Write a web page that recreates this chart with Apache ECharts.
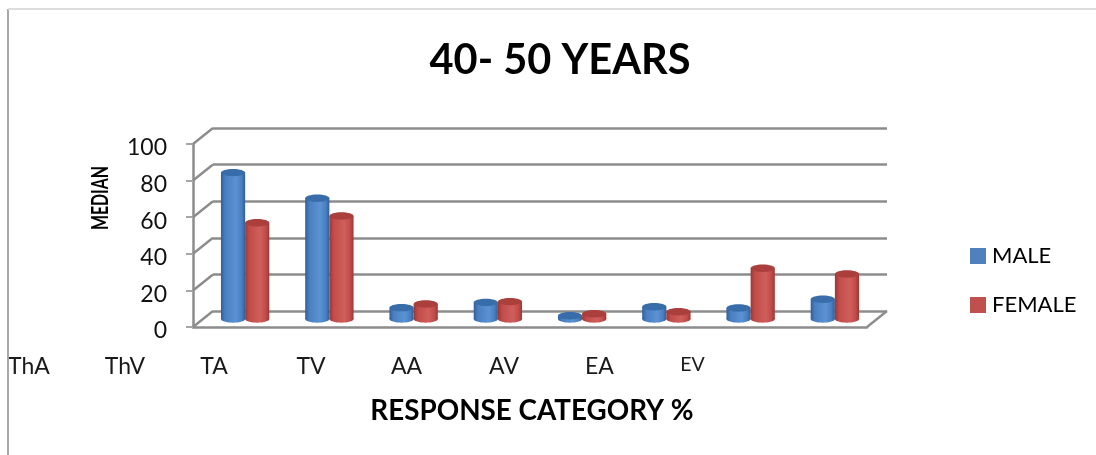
<!DOCTYPE html>
<html>
<head>
<meta charset="utf-8">
<style>html,body{margin:0;padding:0;background:#fff}#chart{width:1096px;height:455px}</style>
<script src="https://cdn.jsdelivr.net/npm/echarts@6/dist/echarts.min.js"></script>
</head>
<body>
<div id="chart"></div>
<script>
// Response categories, one per pair of cylinders
const categories = ['ThA', 'ThV', 'TA', 'TV', 'AA', 'AV', 'EA', 'EV'];
// Median values by sex
const maleValues = [80, 66, 6.2, 9.1, 1.8, 6.7, 6, 10.8];
const femaleValues = [52.6, 56.3, 8.2, 9.5, 2.9, 4, 27.7, 24.6];
// Value axis ticks
const valueTicks = [0, 20, 40, 60, 80, 100];
// Horizontal placement of the category captions on the caption axis
const captionPositions = [29, 125, 214, 311, 406.5, 504, 599.5, 692.5];

const FONT = 'Lato';
const LINE = '#8c8c8c';
const DEPTH_X = 20, DEPTH_Y = 16;

// Front plane, back wall, mid-depth plane for the cylinders,
// caption strip, and the plane carrying the value labels
const grids = [
  { left: 193, top: 144, width: 674, height: 183 },
  { left: 213, top: 128, width: 674, height: 183 },
  { left: 203, top: 136, width: 674, height: 183 },
  { left: 0, top: 300, width: 1064, height: 50 },
  { left: 193, top: 148, width: 674, height: 183 }
];

const hiddenCategory = (i) => ({
  gridIndex: i, type: 'category', data: categories,
  axisLabel: { show: false }, axisTick: { show: false }, axisLine: { show: false }
});
const hiddenValue = (i) => ({
  gridIndex: i, type: 'value', min: 0, max: 100, interval: 20,
  axisLabel: { show: false }, axisTick: { show: false }, axisLine: { show: false }, splitLine: { show: false }
});

// Cylinder: bottom cap, shaded body, darker top cap
function cylinder(sideIndex, edge, mid, light, cap) {
  return function (params, api) {
    const cat = api.value(0), val = api.value(1);
    const base = api.coord([cat, 0]);
    const top = api.coord([cat, val]);
    const band = api.size([1, 0])[0];
    const w = band * 0.287;
    const rx = w / 2, ry = 3.7;
    const cx = base[0] + (sideIndex === 0 ? -rx : rx);
    const fill = new echarts.graphic.LinearGradient(0, 0, 1, 0, [
      { offset: 0, color: edge }, { offset: 0.18, color: mid },
      { offset: 0.62, color: light }, { offset: 0.85, color: mid }, { offset: 1, color: edge }
    ]);
    return {
      type: 'group',
      children: [
        { type: 'ellipse', shape: { cx: cx, cy: base[1], rx: rx, ry: ry }, style: { fill: fill } },
        { type: 'rect', shape: { x: cx - rx, y: top[1], width: w, height: base[1] - top[1] }, style: { fill: fill } },
        { type: 'ellipse', shape: { cx: cx, cy: top[1], rx: rx, ry: ry }, style: { fill: cap } }
      ]
    };
  };
}

const option = {
  backgroundColor: '#fff',
  animation: false,
  title: {
    text: '40- 50 YEARS', left: 555, top: 35, textAlign: 'center',
    textStyle: { fontFamily: FONT, fontWeight: 'bold', fontSize: 41.5, color: '#000' }
  },
  legend: {
    orient: 'vertical', left: 965, top: 240, itemWidth: 16, itemHeight: 16, itemGap: 27,
    icon: 'rect', data: ['MALE', 'FEMALE'],
    textStyle: { fontFamily: FONT, fontSize: 22, color: '#000', padding: [0, 0, 0, 1] }
  },
  grid: grids,
  xAxis: [
    { gridIndex: 0, type: 'category', data: categories, axisLabel: { show: false }, axisTick: { show: false },
      axisLine: { show: true, lineStyle: { color: LINE, width: 2.5 } } },
    hiddenCategory(1),
    hiddenCategory(2),
    { gridIndex: 3, type: 'value', min: 0, max: 1064,
      name: 'RESPONSE CATEGORY %', nameLocation: 'middle', nameGap: 47,
      nameTextStyle: { fontFamily: FONT, fontWeight: 'bold', fontSize: 27.8, color: '#000' },
      axisLine: { show: false }, axisTick: { show: false }, splitLine: { show: false },
      axisLabel: {
        show: true, margin: 5, customValues: captionPositions, hideOverlap: false, showMinLabel: true, showMaxLabel: true,
        fontFamily: FONT, fontSize: 23, color: '#1a1a1a',
        formatter: (v) => {
          const name = categories[captionPositions.indexOf(v)];
          return name === 'EV' ? '{small|' + name + '}' : name;
        },
        rich: { small: { fontFamily: FONT, fontSize: 19.5, color: '#1a1a1a' } }
      } },
    hiddenCategory(4)
  ],
  yAxis: [
    { gridIndex: 0, type: 'value', min: 0, max: 100, interval: 20,
      axisLabel: { show: false },
      axisLine: { show: true, lineStyle: { color: LINE, width: 2.5 } },
      axisTick: { show: true, length: 7, lineStyle: { color: '#a6a6a6', width: 2 } },
      splitLine: { show: false } },
    { gridIndex: 1, type: 'value', min: 0, max: 100, interval: 20,
      axisLabel: { show: false }, axisTick: { show: false }, axisLine: { show: false },
      splitLine: { show: true, lineStyle: { color: LINE, width: 2.5 } } },
    hiddenValue(2),
    { gridIndex: 3, type: 'value', show: false },
    { gridIndex: 4, type: 'value', min: 0, max: 100, interval: 20,
      axisLine: { show: false }, axisTick: { show: false }, splitLine: { show: false },
      axisLabel: { show: true, margin: 26, fontFamily: FONT, fontSize: 23, color: '#111' } }
  ],
  graphic: [
    { type: 'line', z: 1, shape: { x1: 8, y1: 9, x2: 8, y2: 455 }, style: { stroke: '#a8a8a8', lineWidth: 2 } },
    { type: 'line', z: 1, shape: { x1: 8, y1: 9, x2: 1096, y2: 9 }, style: { stroke: '#dcdcdc', lineWidth: 2 } },
    { type: 'text', z: 5, x: 101, y: 198, rotation: Math.PI / 2, scaleX: 0.69,
      style: { text: 'MEDIAN', fontFamily: FONT, fontWeight: 'bold', fontSize: 23, fill: '#000', align: 'center', verticalAlign: 'middle' } }
  ],
  series: [
    // Slanted wall edges joining each front tick to its back gridline
    { type: 'custom', xAxisIndex: 0, yAxisIndex: 0, silent: true, z: 1, legendHoverLink: false,
      data: valueTicks.map((v) => [0, v]),
      encode: { x: 0, y: 1 },
      clip: false,
      renderItem: (params, api) => {
        const y = api.coord([0, api.value(1)])[1];
        const x = params.coordSys.x;
        return { type: 'line', shape: { x1: x, y1: y, x2: x + DEPTH_X, y2: y - DEPTH_Y },
          style: { stroke: LINE, lineWidth: 2.5, fill: null } };
      } },
    // Right edge of the floor
    { type: 'custom', xAxisIndex: 0, yAxisIndex: 0, silent: true, z: 1, clip: false,
      data: [[0, 0]], encode: { x: 0, y: 1 },
      renderItem: (params, api) => {
        const y = api.coord([0, 0])[1];
        const x = params.coordSys.x + params.coordSys.width;
        return { type: 'line', shape: { x1: x, y1: y, x2: x + DEPTH_X, y2: y - DEPTH_Y },
          style: { stroke: LINE, lineWidth: 2.5, fill: null } };
      } },
    { name: 'MALE', type: 'custom', xAxisIndex: 2, yAxisIndex: 2, z: 3, clip: false,
      itemStyle: { color: '#4f81bd' },
      data: maleValues.map((v, i) => [i, v]), encode: { x: 0, y: 1 },
      renderItem: cylinder(0, '#2f5f9a', '#4a80c2', '#5b92d2', '#386da9') },
    { name: 'FEMALE', type: 'custom', xAxisIndex: 2, yAxisIndex: 2, z: 4, clip: false,
      itemStyle: { color: '#c0504d' },
      data: femaleValues.map((v, i) => [i, v]), encode: { x: 0, y: 1 },
      renderItem: cylinder(1, '#9c3735', '#c24c49', '#cf5f5b', '#ab3f3c') }
  ]
};

const chart = echarts.init(document.getElementById('chart'), null, { renderer: 'canvas' });
chart.setOption(option);
</script>
</body>
</html>
